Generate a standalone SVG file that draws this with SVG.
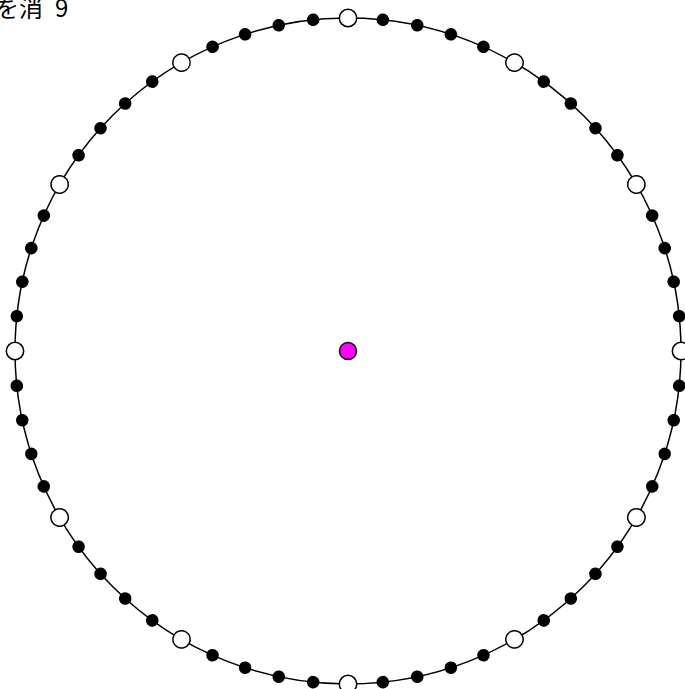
<svg xmlns="http://www.w3.org/2000/svg" xmlns:xlink="http://www.w3.org/1999/xlink" width="685" height="689" viewBox="0 0 685 689">
<style>
.ring{fill:none;stroke:#000;stroke-width:1.5}
.blk{fill:#000}
.wht{fill:#fff;stroke:#000;stroke-width:1.5}
.ctr{fill:#ff00ff;stroke:#000;stroke-width:1.5}
.lbl{font-family:"Noto Sans CJK JP","Noto Sans",sans-serif;font-size:24px;fill:#000}
</style>
<defs>
<circle id="b" cx="348" cy="18" r="6.3" class="blk"/>
<circle id="w" cx="348" cy="18" r="8.7" class="wht"/>
</defs>
<rect width="685" height="689" fill="#fff"/>
<text class="lbl" x="-5" y="17">を消<tspan x="55">9</tspan></text>
<g id="connectors">
<circle class="ring" cx="348" cy="351" r="333"/>
</g>
<g id="ticks">
<use xlink:href="#w" transform="rotate(0 348 351)"/>
<use xlink:href="#b" transform="rotate(6 348 351)"/>
<use xlink:href="#b" transform="rotate(12 348 351)"/>
<use xlink:href="#b" transform="rotate(18 348 351)"/>
<use xlink:href="#b" transform="rotate(24 348 351)"/>
<use xlink:href="#w" transform="rotate(30 348 351)"/>
<use xlink:href="#b" transform="rotate(36 348 351)"/>
<use xlink:href="#b" transform="rotate(42 348 351)"/>
<use xlink:href="#b" transform="rotate(48 348 351)"/>
<use xlink:href="#b" transform="rotate(54 348 351)"/>
<use xlink:href="#w" transform="rotate(60 348 351)"/>
<use xlink:href="#b" transform="rotate(66 348 351)"/>
<use xlink:href="#b" transform="rotate(72 348 351)"/>
<use xlink:href="#b" transform="rotate(78 348 351)"/>
<use xlink:href="#b" transform="rotate(84 348 351)"/>
<use xlink:href="#w" transform="rotate(90 348 351)"/>
<use xlink:href="#b" transform="rotate(96 348 351)"/>
<use xlink:href="#b" transform="rotate(102 348 351)"/>
<use xlink:href="#b" transform="rotate(108 348 351)"/>
<use xlink:href="#b" transform="rotate(114 348 351)"/>
<use xlink:href="#w" transform="rotate(120 348 351)"/>
<use xlink:href="#b" transform="rotate(126 348 351)"/>
<use xlink:href="#b" transform="rotate(132 348 351)"/>
<use xlink:href="#b" transform="rotate(138 348 351)"/>
<use xlink:href="#b" transform="rotate(144 348 351)"/>
<use xlink:href="#w" transform="rotate(150 348 351)"/>
<use xlink:href="#b" transform="rotate(156 348 351)"/>
<use xlink:href="#b" transform="rotate(162 348 351)"/>
<use xlink:href="#b" transform="rotate(168 348 351)"/>
<use xlink:href="#b" transform="rotate(174 348 351)"/>
<use xlink:href="#w" transform="rotate(180 348 351)"/>
<use xlink:href="#b" transform="rotate(186 348 351)"/>
<use xlink:href="#b" transform="rotate(192 348 351)"/>
<use xlink:href="#b" transform="rotate(198 348 351)"/>
<use xlink:href="#b" transform="rotate(204 348 351)"/>
<use xlink:href="#w" transform="rotate(210 348 351)"/>
<use xlink:href="#b" transform="rotate(216 348 351)"/>
<use xlink:href="#b" transform="rotate(222 348 351)"/>
<use xlink:href="#b" transform="rotate(228 348 351)"/>
<use xlink:href="#b" transform="rotate(234 348 351)"/>
<use xlink:href="#w" transform="rotate(240 348 351)"/>
<use xlink:href="#b" transform="rotate(246 348 351)"/>
<use xlink:href="#b" transform="rotate(252 348 351)"/>
<use xlink:href="#b" transform="rotate(258 348 351)"/>
<use xlink:href="#b" transform="rotate(264 348 351)"/>
<use xlink:href="#w" transform="rotate(270 348 351)"/>
<use xlink:href="#b" transform="rotate(276 348 351)"/>
<use xlink:href="#b" transform="rotate(282 348 351)"/>
<use xlink:href="#b" transform="rotate(288 348 351)"/>
<use xlink:href="#b" transform="rotate(294 348 351)"/>
<use xlink:href="#w" transform="rotate(300 348 351)"/>
<use xlink:href="#b" transform="rotate(306 348 351)"/>
<use xlink:href="#b" transform="rotate(312 348 351)"/>
<use xlink:href="#b" transform="rotate(318 348 351)"/>
<use xlink:href="#b" transform="rotate(324 348 351)"/>
<use xlink:href="#w" transform="rotate(330 348 351)"/>
<use xlink:href="#b" transform="rotate(336 348 351)"/>
<use xlink:href="#b" transform="rotate(342 348 351)"/>
<use xlink:href="#b" transform="rotate(348 348 351)"/>
<use xlink:href="#b" transform="rotate(354 348 351)"/>
</g>
<g id="center">
<circle class="ctr" cx="348" cy="351" r="8.5"/>
</g>
</svg>
